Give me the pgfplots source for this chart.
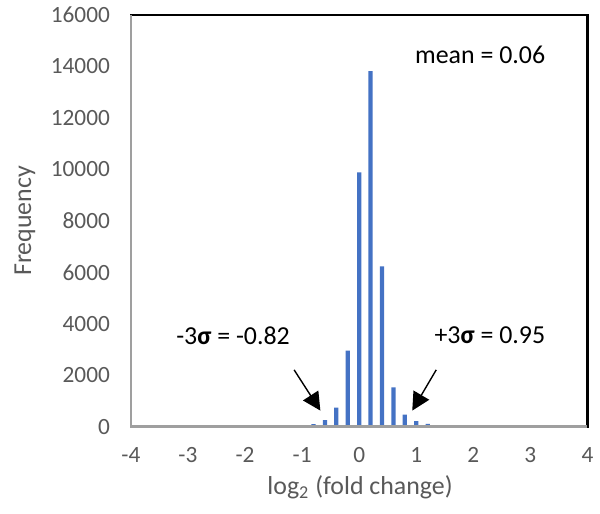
\documentclass[border=0pt]{standalone}
\usepackage{pgfplots}
\pgfplotsset{compat=1.18}
\usepackage{fontspec}
\setmainfont{Carlito}
\usetikzlibrary{arrows.meta}
\definecolor{barblue}{HTML}{4472C4}
\definecolor{ticktext}{HTML}{595959}

\begin{document}
\begin{tikzpicture}
\begin{axis}[
    scale only axis,
    width=228.5bp, height=206bp,
    xmin=-4, xmax=4, ymin=0, ymax=16000,
    xtick={-4,-3,...,4},
    ytick={0,2000,...,16000},
    scaled ticks=false,
    major tick length=0,
    /pgf/number format/assume math mode=true,
    /pgf/number format/1000 sep={},
    tick label style={font=\fontsize{11.7}{14}\selectfont, text=ticktext},
    xticklabel style={yshift=-7bp},
    yticklabel style={xshift=-7bp},
    label style={font=\fontsize{13}{15}\selectfont, text=ticktext},
    xlabel={log\textsubscript{2} (fold change)},
    ylabel={Frequency},
    xlabel style={at={(axis description cs:0.502,-0.148)}, anchor=center},
    ylabel style={at={(axis description cs:-0.232,0.5)}, anchor=center},
    axis line style={black, line width=1.1bp},
    clip=false,
]
\addplot[ybar, bar width=0.075, fill=barblue, draw=none] coordinates {
    (-1.2,20) (-1.0,40) (-0.8,100) (-0.6,250) (-0.4,740) (-0.2,2950)
    (0,9880) (0.2,13820) (0.4,6230) (0.6,1530) (0.8,470) (1.0,210)
    (1.2,110) (1.4,60) (1.6,30) (1.8,15)
};
\draw[gray!75, line width=1.3bp] (rel axis cs:0,1) -- (rel axis cs:0,0) -- (rel axis cs:1,0);
\node[font=\fontsize{13}{15}\selectfont] at (axis cs:2.12,14440) {mean = 0.06};
\node[font=\fontsize{13}{15}\selectfont] at (axis cs:-2.21,3540) {-3\textbf{σ} = -0.82};
\node[font=\fontsize{13}{15}\selectfont] at (axis cs:2.29,3540) {+3\textbf{σ} = 0.95};
\draw[-{Triangle[width=9bp,length=9bp]}, line width=0.7bp] (axis cs:-1.14,2207) -- (axis cs:-0.68,623);
\draw[-{Triangle[width=9bp,length=9bp]}, line width=0.7bp] (axis cs:1.35,2207) -- (axis cs:0.93,623);
\end{axis}
\path ([shift={(-65.5bp,-43.5bp)}]current axis.south west) rectangle ([shift={(6bp,7.5bp)}]current axis.north east);
\end{tikzpicture}
\end{document}
